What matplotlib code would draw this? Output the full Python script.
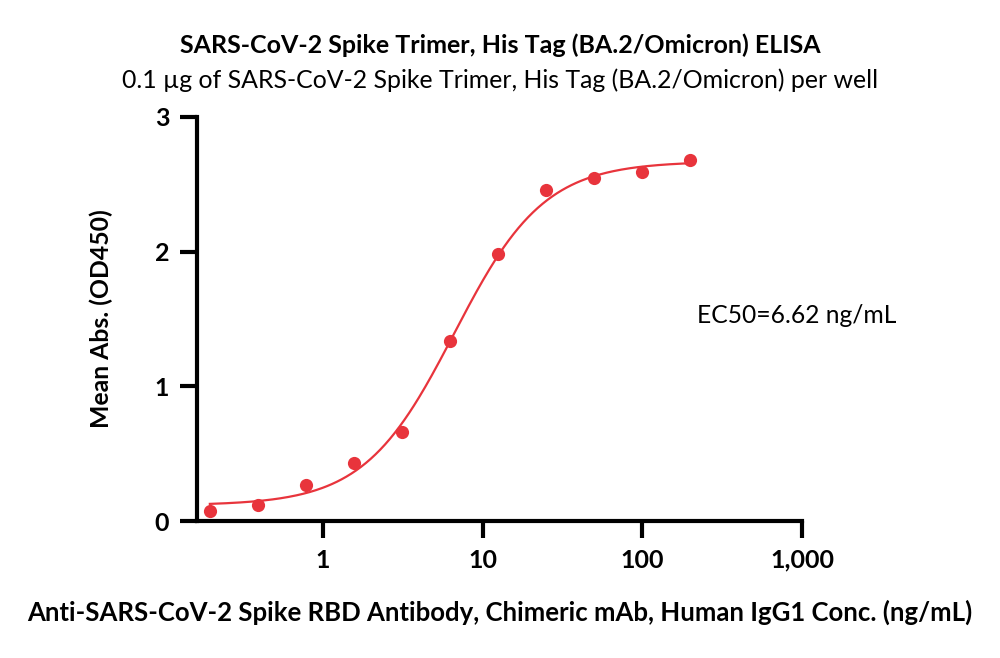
import numpy as np
import matplotlib.pyplot as plt
from matplotlib.ticker import FixedLocator, FuncFormatter

plt.rcParams['font.family'] = ['Lato', 'DejaVu Sans']

# data (ng/mL vs OD450)
conc = [0.195, 0.39, 0.78, 1.56, 3.125, 6.25, 12.5, 25, 50, 100, 200]
od450 = [0.075, 0.12, 0.27, 0.43, 0.66, 1.34, 1.98, 2.455, 2.55, 2.59, 2.68]

# 4PL fit parameters
bottom = 0.116
top = 2.67
ec50 = 6.62
hill = 1.54

red = '#E8343C'

fig = plt.figure(figsize=(10, 6.58), dpi=100)
ax = fig.add_axes([0.197, 0.2082, 0.605, 0.614])

xs = np.logspace(np.log10(conc[0]), np.log10(conc[-1]), 300)
fit = bottom + (top - bottom) / (1 + (ec50 / xs) ** hill)
ax.plot(xs, fit, color=red, lw=1.6, zorder=2)
ax.plot(conc, od450, 'o', color=red, ms=9.5, mec='none', zorder=3)

ax.set_xscale('log')
ax.set_xlim(0.162, 1000)
ax.set_ylim(0, 3)
ax.xaxis.set_major_locator(FixedLocator([1, 10, 100, 1000]))
ax.xaxis.set_minor_locator(FixedLocator([]))
ax.xaxis.set_major_formatter(FuncFormatter(lambda v, p: f'{v:,.0f}'))
ax.set_yticks([0, 1, 2, 3])

for s in ['top', 'right']:
    ax.spines[s].set_visible(False)
for s in ['left', 'bottom']:
    ax.spines[s].set_linewidth(3)
ax.tick_params(width=3, length=12, labelsize=18, pad=8)
for lab in ax.get_xticklabels() + ax.get_yticklabels():
    lab.set_fontweight('bold')

ax.set_ylabel('Mean Abs. (OD450)', fontsize=17.8, fontweight='bold', labelpad=30)
fig.text(0.5, 0.07, 'Anti-SARS-CoV-2 Spike RBD Antibody, Chimeric mAb, Human IgG1 Conc. (ng/mL)',
         ha='center', va='center', fontsize=18.5, fontweight='bold')
fig.text(0.5, 0.932, 'SARS-CoV-2 Spike Trimer, His Tag (BA.2/Omicron) ELISA',
         ha='center', va='center', fontsize=18, fontweight='bold')
fig.text(0.5, 0.878, '0.1 \u00b5g of SARS-CoV-2 Spike Trimer, His Tag (BA.2/Omicron) per well',
         ha='center', va='center', fontsize=17.9)
fig.text(0.697, 0.521, 'EC50=6.62 ng/mL', ha='left', va='center', fontsize=17.7)

fig.savefig('out.png', dpi=100)
